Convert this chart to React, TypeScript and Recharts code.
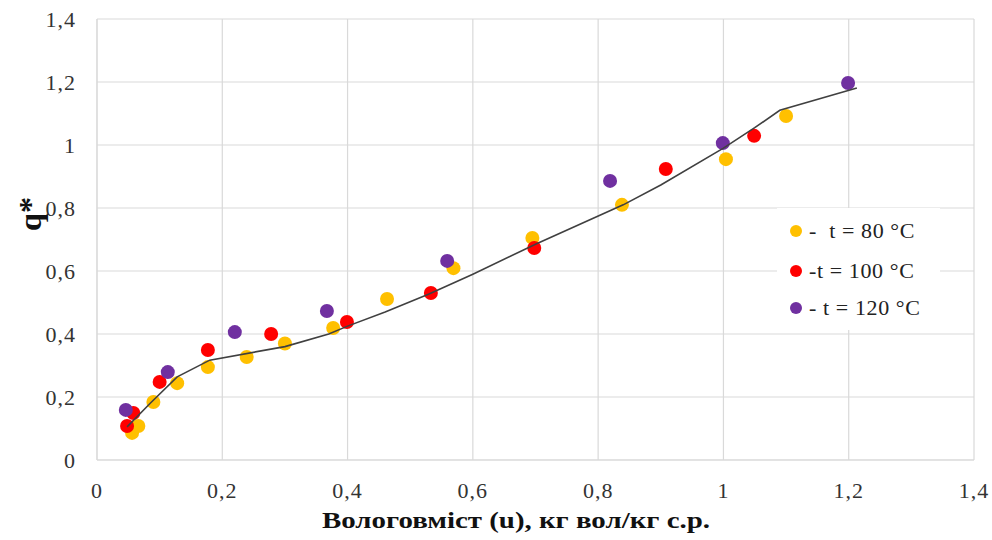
import React from 'react';
import { ScatterChart, Scatter, XAxis, YAxis, CartesianGrid, Label } from 'recharts';

const x80 = [0.056, 0.066, 0.09, 0.128, 0.177, 0.239, 0.30, 0.377, 0.463, 0.569, 0.695, 0.838, 1.004, 1.10];
const y80 = [0.086, 0.108, 0.184, 0.244, 0.295, 0.327, 0.37, 0.419, 0.511, 0.609, 0.705, 0.81, 0.955, 1.092];

const x100 = [0.048, 0.058, 0.10, 0.177, 0.278, 0.399, 0.533, 0.698, 0.908, 1.049];
const y100 = [0.108, 0.149, 0.248, 0.349, 0.40, 0.438, 0.53, 0.673, 0.924, 1.029];

const x120 = [0.046, 0.113, 0.22, 0.367, 0.559, 0.819, 0.999, 1.199];
const y120 = [0.159, 0.279, 0.406, 0.473, 0.632, 0.886, 1.006, 1.197];

const xLine = [0.048, 0.085, 0.128, 0.18, 0.30, 0.37, 0.40, 0.46, 0.53, 0.60, 0.70, 0.84, 0.90, 1.0, 1.05, 1.09, 1.213];
const yLine = [0.105, 0.18, 0.264, 0.317, 0.36, 0.40, 0.425, 0.47, 0.527, 0.59, 0.685, 0.81, 0.873, 0.99, 1.055, 1.11, 1.181];

const xTicks = [0, 0.2, 0.4, 0.6, 0.8, 1, 1.2, 1.4];
const yTicks = [0, 0.2, 0.4, 0.6, 0.8, 1, 1.2, 1.4];

const seriesNames = ['-  t = 80 °C', '-t = 100 °C', '- t = 120 °C'];
const seriesColors = ['#FFC000', '#FF0000', '#7030A0'];

const xTitle = 'Вологовміст (u), кг вол/кг с.р.';
const yTitle = 'q*';

const zip = (xs: number[], ys: number[]) => xs.map((x, i) => ({ x, y: ys[i] }));

const d80 = zip(x80, y80);
const d100 = zip(x100, y100);
const d120 = zip(x120, y120);
const dLine = zip(xLine, yLine);

const FONT = '"Liberation Serif", "Times New Roman", serif';
const fmt = (v: number) => String(v).replace('.', ',');

const dot = (color: string) => (props: any) => (
  <circle cx={props.cx} cy={props.cy} r={7} fill={color} />
);

const LegendBox = () => (
  <div
    style={{
      position: 'absolute',
      left: 777,
      top: 208,
      width: 163,
      background: '#fff',
      fontFamily: FONT,
      fontSize: 22,
      letterSpacing: 0.6,
      color: '#222',
      padding: '2px 0 4px 11px',
      boxSizing: 'border-box',
    }}
  >
    {seriesNames.map((n, i) => (
      <div key={n} style={{ display: 'flex', alignItems: 'center', height: i === 0 ? 42 : 37, whiteSpace: 'pre' }}>
        <svg width={16} height={16} style={{ marginRight: 5 }}>
          <circle cx={8} cy={8} r={6} fill={seriesColors[i]} />
        </svg>
        <span>{n}</span>
      </div>
    ))}
  </div>
);

const tickStyle = { fontFamily: FONT, fontSize: 22, fill: '#333', letterSpacing: 1 };

export default function App() {
  return (
    <div style={{ position: 'absolute', left: 0, top: 0, width: 992, height: 540, background: '#fff' }}>
      <ScatterChart width={992} height={540} margin={{ top: 19, right: 18, bottom: 0, left: 0 }}>
        <CartesianGrid stroke="#d9d9d9" strokeWidth={1.2} />
        <XAxis
          type="number"
          dataKey="x"
          domain={[0, 1.4]}
          ticks={xTicks}
          tickFormatter={fmt}
          height={80}
          axisLine={{ stroke: '#d9d9d9' }}
          tickLine={false}
          tickSize={0}
          tickMargin={22}
          tick={tickStyle}
        >
          <Label
            content={() => (
              <text
                x={516}
                y={528}
                textAnchor="middle"
                textLength={388}
                lengthAdjust="spacingAndGlyphs"
                fontFamily={FONT}
                fontSize={24}
                fontWeight="bold"
                fill="#111"
              >
                {xTitle}
              </text>
            )}
          />
        </XAxis>
        <YAxis
          type="number"
          dataKey="y"
          domain={[0, 1.4]}
          ticks={yTicks}
          tickFormatter={fmt}
          width={97}
          axisLine={{ stroke: '#d9d9d9' }}
          tickLine={false}
          tickSize={0}
          tickMargin={21}
          tick={tickStyle}
        >
          <Label
            content={() => (
              <text
                x={41}
                y={214}
                transform="rotate(-90 41 214)"
                textAnchor="middle"
                fontFamily={FONT}
                fontSize={32}
                fontWeight="bold"
                fill="#111"
              >
                {yTitle}
              </text>
            )}
          />
        </YAxis>
        <Scatter name={seriesNames[0]} data={d80} fill={seriesColors[0]} shape={dot(seriesColors[0])} isAnimationActive={false} />
        <Scatter name={seriesNames[1]} data={d100} fill={seriesColors[1]} shape={dot(seriesColors[1])} isAnimationActive={false} />
        <Scatter name={seriesNames[2]} data={d120} fill={seriesColors[2]} shape={dot(seriesColors[2])} isAnimationActive={false} />
        <Scatter
          name="fit"
          data={dLine}
          line={{ stroke: '#404040', strokeWidth: 1.6 }}
          shape={() => <g />}
          legendType="none"
          isAnimationActive={false}
        />
      </ScatterChart>
      <LegendBox />
    </div>
  );
}
